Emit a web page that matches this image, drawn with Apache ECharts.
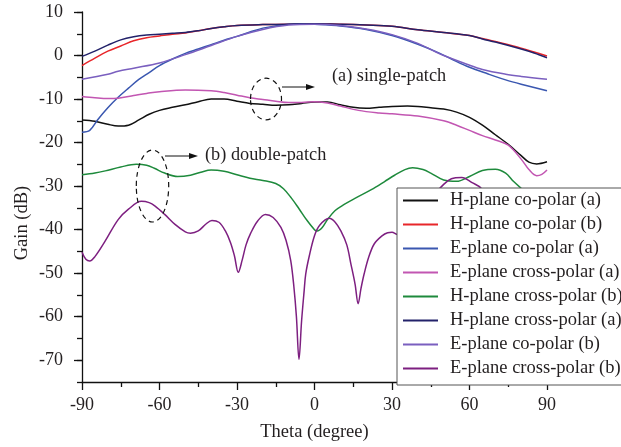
<!DOCTYPE html>
<html>
<head>
<meta charset="utf-8">
<script src="https://cdn.jsdelivr.net/npm/echarts@6/dist/echarts.min.js"></script>
<style>
html,body{margin:0;padding:0;background:#fff;}
#chart{width:621px;height:447px;}
</style>
</head>
<body>
<div id="chart"></div>
<script>
// ---- data (theta in degree, gain in dB) ----
var hCoA_theta = [-90,-85,-80,-76,-72,-68,-64,-60,-55,-50,-45,-40,-35,-30,-25,-20,-15,-10,-5,0,5,10,15,20,25,30,36,40,45,50,55,60,65,70,75,80,83,86,90];
var hCoA_gain  = [-14.8,-15.1,-15.8,-16.2,-16.0,-14.8,-13.5,-12.6,-11.9,-11.3,-10.6,-10.0,-10.0,-10.5,-11.0,-11.2,-11.4,-11.3,-11.0,-10.7,-10.7,-11.3,-11.9,-12.1,-11.9,-11.7,-11.6,-11.7,-12.0,-12.3,-13.0,-14.2,-16.0,-18.2,-20.4,-23.0,-24.5,-24.9,-24.4];

var hCoB_theta = [-90,-85,-80,-75,-70,-65,-60,-55,-50,-45,-40,-35,-30,-20,-10,0,10,20,30,40,50,60,65,70,80,85,90];
var hCoB_gain  = [-2.3,-0.6,1.0,2.2,3.4,4.1,4.5,4.9,5.2,5.7,6.2,6.6,6.9,7.1,7.2,7.3,7.2,7.0,6.7,5.9,5.3,4.6,3.9,3.2,1.7,0.8,-0.1];

var eCoA_theta = [-90,-87,-84,-80,-76,-72,-68,-64,-60,-55,-50,-45,-40,-35,-30,-25,-20,-15,-10,-5,0,10,20,30,40,47,53,60,67,74,80,90];
var eCoA_gain  = [-17.6,-17.2,-14.8,-12.0,-9.6,-7.5,-5.5,-3.9,-2.3,-0.8,0.5,1.5,2.5,3.5,4.4,5.4,6.3,6.8,7.2,7.3,7.2,6.8,6.0,4.6,2.6,0.9,-0.8,-2.7,-4.2,-5.6,-6.6,-8.1];

var eXA_theta = [-90,-85,-80,-76,-70,-65,-60,-50,-40,-35,-30,-25,-20,-15,-10,-5,0,5,10,17,25,30,40,50,55,60,65,70,75,80,83,86,88,90];
var eXA_gain  = [-9.4,-9.7,-9.9,-9.8,-9.2,-8.7,-8.3,-7.9,-8.1,-8.5,-9.1,-9.7,-10.1,-10.5,-10.8,-10.8,-10.6,-10.9,-11.6,-12.6,-13.2,-13.4,-13.9,-15.0,-16.0,-17.2,-18.4,-19.4,-20.6,-23.8,-26.2,-27.6,-27.3,-26.3];

var hXB_theta = [-90,-85,-81,-75,-69,-65,-62,-58,-53,-48,-44,-40,-35,-30,-25,-20,-15,-12,-9,-6,-3,0,1,3,5,8,11.5,16,22,27,31,35,38,42,45,50,55,60,65,70,74,77,80,85,90];
var hXB_gain  = [-27.4,-27.0,-26.5,-25.6,-25.0,-25.2,-25.9,-27.0,-27.8,-27.5,-26.8,-26.3,-26.6,-27.4,-28.2,-28.7,-29.4,-30.6,-32.7,-35.2,-37.8,-40.0,-40.3,-39.5,-37.7,-35.6,-34.2,-32.7,-30.8,-29.0,-27.5,-26.2,-25.8,-26.2,-27.0,-28.6,-28.9,-27.8,-26.4,-26.1,-27.0,-28.9,-30.5,-33.0,-35.0];

var hXA_theta = [-90,-85,-80,-75,-70,-65,-60,-55,-50,-45,-40,-35,-30,-20,-10,0,10,20,30,40,50,60,65,70,80,85,90];
var hXA_gain  = [-0.2,1.0,2.4,3.6,4.3,4.7,4.9,5.1,5.3,5.7,6.2,6.6,6.9,7.1,7.2,7.3,7.2,7.0,6.7,5.9,5.3,4.6,3.8,3.1,1.5,0.6,-0.5];

var eCoB_theta = [-90,-80,-76,-70,-60,-50,-40,-30,-20,-10,0,10,20,30,40,47,50,59,65,74,80,90];
var eCoB_gain  = [-5.45,-4.3,-3.6,-2.9,-1.7,0.2,2.3,4.4,6.0,7.0,7.2,6.9,6.1,4.8,2.8,0.8,0.0,-2.0,-3.2,-4.3,-4.8,-5.45];

var eXB_theta = [-90,-88.5,-87,-85,-81,-76,-72,-67,-64,-61.7,-58,-54,-50,-48,-45,-42,-39.7,-37,-34.5,-32.5,-31,-29.5,-28,-26.5,-24.7,-22,-19,-16,-13,-11,-9.2,-8,-7,-6,-5,-4,-3.4,-2,0,2,5.7,8,10.2,12.5,14.1,15.7,16.9,18,19.2,21,23.1,26,28.3,30,32.2,35,40,45,50,53,57,61,64.5,68,72,76,80,85,90];
var eXB_gain  = [-45.2,-46.8,-47.2,-46.2,-42.6,-37.7,-35.3,-33.5,-33.8,-34.6,-36.5,-38.8,-40.5,-40.8,-40.3,-38.7,-37.9,-38.3,-40.3,-43.0,-46.0,-49.8,-47.0,-43.5,-40.8,-38.0,-36.5,-37.2,-39.5,-42.5,-47.1,-53.0,-60.0,-69.8,-61.0,-54.0,-50.2,-46.0,-41.4,-39.0,-37.4,-38.3,-40.3,-43.5,-47.9,-52.5,-57.0,-53.5,-50.2,-46.3,-43.3,-41.5,-40.7,-40.6,-41.1,-41.0,-38.0,-33.0,-29.6,-28.3,-28.0,-29.2,-30.5,-34.0,-38.0,-41.0,-42.0,-41.0,-40.0];

var yMajorTicks = [-70,-60,-50,-40,-30,-20,-10,0,10];

var seriesDefs = [
  {name:'H-plane co-polar (a)',       t:hCoA_theta, g:hCoA_gain, color:'#111111'},
  {name:'H-plane co-polar (b)',       t:hCoB_theta, g:hCoB_gain, color:'#e8262a'},
  {name:'E-plane co-polar (a)',       t:eCoA_theta, g:eCoA_gain, color:'#3a57b0'},
  {name:'E-plane cross-polar (a)',    t:eXA_theta,  g:eXA_gain,  color:'#c256b2'},
  {name:'H-plane cross-polar (b)',    t:hXB_theta,  g:hXB_gain,  color:'#1e8a3c'},
  {name:'H-plane cross-polar (a)',    t:hXA_theta,  g:hXA_gain,  color:'#23226a'},
  {name:'E-plane co-polar (b)',       t:eCoB_theta, g:eCoB_gain, color:'#7a5fbf'},
  {name:'E-plane cross-polar (b)',    t:eXB_theta,  g:eXB_gain,  color:'#7d1f80'}
];

var FONT = 'Liberation Serif';
var TXT = '#231f20';
var FS = 18;

var series = seriesDefs.map(function(s){
  return {
    name: s.name, type:'line', smooth:0.35, symbol:'none', showSymbol:false,
    data: s.t.map(function(t,i){ return [t, s.g[i]]; }),
    lineStyle:{color:s.color, width:1.5}, itemStyle:{color:s.color},
    z: 2
  };
});

function dashedEllipse(cx, cy, rx, ry){
  return {type:'ellipse', shape:{cx:cx, cy:cy, rx:rx, ry:ry}, z:5,
    style:{fill:null, stroke:'#111', lineWidth:1.2, lineDash:[5,4]}};
}
function arrow(x1, x2, y){
  return [
    {type:'line', shape:{x1:x1, y1:y, x2:x2-8, y2:y}, z:5, style:{stroke:'#111', lineWidth:1}},
    {type:'polygon', shape:{points:[[x2-9,y-3],[x2,y],[x2-9,y+3]]}, z:5, style:{fill:'#111'}}
  ];
}

var chart = echarts.init(document.getElementById('chart'));
chart.setOption({
  animation:false,
  backgroundColor:'#fff',
  grid:{left:82, right:74, top:12, bottom:62},
  xAxis:{
    type:'value', min:-90, max:90, interval:30,
    name:'Theta (degree)', nameLocation:'middle', nameGap:41,
    nameTextStyle:{fontFamily:FONT, fontSize:18.5, color:TXT},
    axisLine:{show:true, onZero:false, lineStyle:{color:'#111', width:1.3}},
    axisTick:{show:true, inside:false, length:8, lineStyle:{color:'#111', width:1.3}},
    minorTick:{show:true, splitNumber:2, length:5, lineStyle:{color:'#111', width:1.3}},
    axisLabel:{fontFamily:FONT, fontSize:FS, color:TXT, margin:14},
    splitLine:{show:false}
  },
  yAxis:[{
    type:'value', min:-75, max:10, interval:5, position:'left',
    axisLine:{show:true, onZero:false, lineStyle:{color:'#111', width:1.3}},
    axisTick:{show:true, inside:false, length:5, lineStyle:{color:'#111', width:1.3}},
    axisLabel:{fontFamily:FONT, fontSize:FS, color:TXT, margin:19,
      formatter:function(v){ return (v % 10 === 0) ? String(v) : ''; }},
    splitLine:{show:false}
  },{
    type:'value', min:-75, max:10, position:'left', offset:0,
    axisLine:{show:false, onZero:false},
    axisTick:{show:true, inside:false, length:8, customValues:yMajorTicks, lineStyle:{color:'#111', width:1.3}},
    axisLabel:{show:false},
    splitLine:{show:false}
  }],
  legend:{
    orient:'vertical', left:397, top:188,
    data: seriesDefs.map(function(s){return s.name;}),
    icon:'rect', itemWidth:35, itemHeight:2, itemGap:5,
    padding:[3,40,7,6],
    backgroundColor:'#fff', borderColor:'#555', borderWidth:1,
    textStyle:{fontFamily:FONT, fontSize:18.5, color:TXT, lineHeight:18, padding:[0,0,0,7]},
    selectedMode:false
  },
  graphic:[].concat(
    [dashedEllipse(266, 99, 15.5, 20.8), dashedEllipse(152.5, 186, 16.2, 36)],
    arrow(282, 315, 87), arrow(165, 198, 156),
    [
      {type:'text', x:332, y:76, z:5, style:{text:'(a) single-patch', font:'18.3px "Liberation Serif"', fill:TXT, align:'left', verticalAlign:'middle'}},
      {type:'text', x:205, y:155, z:5, style:{text:'(b) double-patch', font:'18.3px "Liberation Serif"', fill:TXT, align:'left', verticalAlign:'middle'}},
      {type:'text', x:22, y:223, rotation:Math.PI/2, z:5, style:{text:'Gain (dB)', font:'18.5px "Liberation Serif"', fill:TXT, align:'center', verticalAlign:'middle'}}
    ]
  ),
  series: series
});
</script>
</body>
</html>
